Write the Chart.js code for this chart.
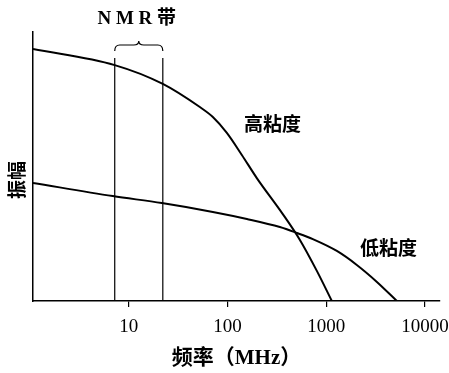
<!DOCTYPE html>
<html>
<head>
<meta charset="utf-8">
<script src="https://cdn.jsdelivr.net/npm/chart.js@4.4.0/dist/chart.umd.min.js"></script>
<style>
  html, body { margin: 0; padding: 0; background: #fff; }
</style>
</head>
<body>
<canvas id="chart" width="449" height="373"></canvas>
<script>
// frequency (MHz) and amplitude
const highFreq = [1.07, 7.2, 22.1, 52.4, 71.0, 98.4, 139.6, 198, 363, 541, 803, 1140];
const highAmp  = [93.7, 87.7, 80.7, 72.1, 68.4, 62.5, 54.3, 45.7, 32.3, 22.7, 11.2, 0];
const lowFreq  = [1.07, 6.88, 21.6, 71.0, 157, 339, 504, 731, 1280, 2040, 3260, 5190];
const lowAmp   = [43.9, 39.0, 36.4, 33.1, 30.5, 27.5, 25.3, 23.0, 18.6, 13.4, 7.1, 0];
const nmrBand  = [7.2, 22.1];
const nmrTop   = 90.3;
const tickValues = [10, 100, 1000, 10000];
const labels = { band: 'N M R 带', high: '高粘度', low: '低粘度', yTitle: '振幅', xTitle: '频率（MHz）' };

const serif = "'Liberation Serif', 'Noto Sans CJK SC', serif";
const cjk = "'Noto Sans CJK SC', 'Liberation Serif', sans-serif";

function toPoints(xs, ys) {
  return xs.map((x, i) => ({ x, y: ys[i] }));
}

const lineStyle = {
  borderColor: '#000',
  borderWidth: 2,
  pointRadius: 0,
  fill: false,
  cubicInterpolationMode: 'monotone'
};

const datasets = [
  Object.assign({ label: labels.high, data: toPoints(highFreq, highAmp) }, lineStyle),
  Object.assign({ label: labels.low, data: toPoints(lowFreq, lowAmp) }, lineStyle)
];
// NMR band edges
nmrBand.forEach(f => {
  datasets.push({
    label: 'nmr',
    data: [{ x: f, y: 0 }, { x: f, y: nmrTop }],
    borderColor: '#000',
    borderWidth: 1.2,
    pointRadius: 0,
    tension: 0
  });
});

// brace and free labels
const notes = {
  id: 'notes',
  afterDatasetsDraw(chart) {
    const ctx = chart.ctx;
    const xs = chart.scales.x;
    const x1 = xs.getPixelForValue(nmrBand[0]);
    const x2 = xs.getPixelForValue(nmrBand[1]);
    const mid = (x1 + x2) / 2;
    const yb = 51, yl = 45, yp = 41;

    ctx.save();
    ctx.strokeStyle = '#000';
    ctx.lineWidth = 1.2;
    ctx.beginPath();
    ctx.moveTo(x1, yb);
    ctx.quadraticCurveTo(x1, yl, x1 + 5, yl);
    ctx.lineTo(mid - 5, yl);
    ctx.quadraticCurveTo(mid, yl, mid, yp);
    ctx.quadraticCurveTo(mid, yl, mid + 5, yl);
    ctx.lineTo(x2 - 5, yl);
    ctx.quadraticCurveTo(x2, yl, x2, yb);
    ctx.stroke();

    ctx.fillStyle = '#000';
    ctx.textBaseline = 'middle';
    ctx.textAlign = 'center';
    ctx.font = 'bold 19px ' + serif;
    ctx.fillText(labels.band, mid - 2, 19);

    ctx.textAlign = 'left';
    ctx.font = 'bold 19px ' + cjk;
    ctx.fillText(labels.high, 244, 124);
    ctx.fillText(labels.low, 360, 248);

    ctx.translate(17, 180);
    ctx.rotate(-Math.PI / 2);
    ctx.textAlign = 'center';
    ctx.font = 'bold 19px ' + cjk;
    ctx.fillText(labels.yTitle, 0, 0);
    ctx.restore();
  }
};

new Chart(document.getElementById('chart'), {
  type: 'line',
  data: { datasets },
  options: {
    responsive: false,
    devicePixelRatio: 1,
    animation: false,
    layout: { padding: { left: 0, top: 32, right: 9, bottom: 0 } },
    plugins: { legend: { display: false }, tooltip: { enabled: false } },
    scales: {
      x: {
        type: 'logarithmic',
        min: 1.07,
        max: 14200,
        afterBuildTicks: s => { s.ticks = tickValues.map(v => ({ value: v })); },
        afterFit: s => { s.height = 72; s.paddingLeft = 0; s.paddingRight = 0; },
        ticks: {
          autoSkip: false,
          maxRotation: 0,
          color: '#000',
          padding: 9,
          font: { family: serif, size: 19 },
          callback: v => String(v)
        },
        grid: { drawOnChartArea: false, drawTicks: true, tickLength: 6, color: '#000', lineWidth: 1.2 },
        border: { display: true, color: '#000', width: 1.5 },
        title: {
          display: true,
          text: labels.xTitle,
          color: '#000',
          font: { family: serif, size: 21, weight: 'bold' },
          padding: { top: 0, bottom: 2 }
        }
      },
      y: {
        min: 0,
        max: 100,
        afterFit: s => { s.width = 33; },
        ticks: { display: false },
        grid: { display: false },
        border: { display: true, color: '#000', width: 1.5 }
      }
    }
  },
  plugins: [notes]
});
</script>
</body>
</html>
